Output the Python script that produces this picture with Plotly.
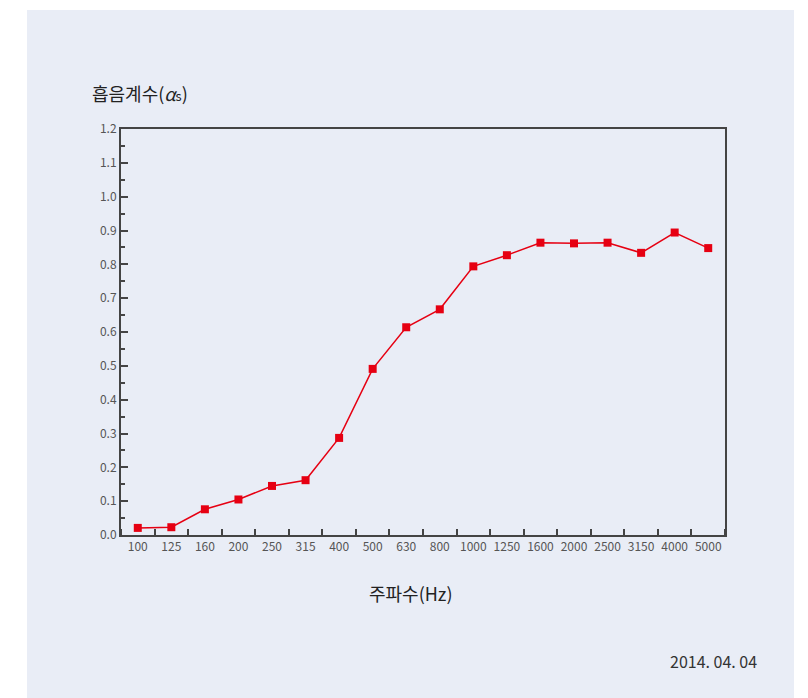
import plotly.graph_objects as go

freqs = ["100", "125", "160", "200", "250", "315", "400", "500", "630", "800",
         "1000", "1250", "1600", "2000", "2500", "3150", "4000", "5000"]
alpha = [0.021, 0.023, 0.076, 0.105, 0.145, 0.162, 0.287, 0.491, 0.614, 0.667,
         0.794, 0.827, 0.864, 0.862, 0.864, 0.834, 0.894, 0.848]
y_ticks = [0.0, 0.1, 0.2, 0.3, 0.4, 0.5, 0.6, 0.7, 0.8, 0.9, 1.0, 1.1, 1.2]
y_tick_text = ["0.0", "0.1", "0.2", "0.3", "0.4", "0.5", "0.6", "0.7", "0.8", "0.9", "1.0", "1.1", "1.2"]

BG = "#e9edf6"
RED = "#e60012"
AXIS = "#444444"
FONT = "Noto Sans CJK KR, Noto Sans, sans-serif"

# page body has an 8px margin, so the figure is drawn 8px in from the corner
OFF = 8
W, H = 808 - OFF, 698 - OFF
L, T = 121 - OFF, 129 - OFF
R, B = W - (725 - OFF), H - (535 - OFF)
pw, ph = W - L - R, H - T - B


def px(x):
    return (x - OFF - L) / pw


def py(y):
    return (T + ph - (y - OFF)) / ph


fig = go.Figure(
    go.Scatter(
        x=list(range(len(freqs))),
        y=alpha,
        mode="lines+markers",
        line=dict(color=RED, width=1.5),
        marker=dict(symbol="square", size=8, color=RED),
        showlegend=False,
        hoverinfo="skip",
    )
)

# light blue card behind everything
fig.add_shape(
    type="rect", xref="paper", yref="paper", layer="below",
    x0=px(27), x1=px(794), y0=py(710), y1=py(10),
    fillcolor=BG, line_width=0,
)

fig.update_xaxes(
    range=[-0.5, len(freqs) - 0.5],
    tickmode="array",
    tickvals=list(range(len(freqs))),
    ticktext=freqs,
    ticks="",
    showgrid=False,
    zeroline=False,
    showline=True, linecolor=AXIS, linewidth=2, mirror=True,
    tickfont=dict(family=FONT, size=12, color="#555555"),
    minor=dict(tickmode="array", tickvals=[i + 0.5 for i in range(-1, len(freqs))],
               ticks="inside", ticklen=6, tickcolor=AXIS, tickwidth=1.5),
    fixedrange=True,
)
fig.update_yaxes(
    range=[0, 1.2],
    tickmode="array",
    tickvals=y_ticks,
    ticktext=y_tick_text,
    ticks="inside", ticklen=7, tickcolor=AXIS, tickwidth=1.5,
    showgrid=False,
    zeroline=False,
    showline=True, linecolor=AXIS, linewidth=2, mirror=True,
    tickfont=dict(family=FONT, size=12, color="#555555"),
    minor=dict(tickmode="array", tickvals=[v + 0.05 for v in y_ticks[:-1]],
               ticks="inside", ticklen=4, tickcolor=AXIS, tickwidth=1.5),
    fixedrange=True,
)

fig.add_annotation(
    text="흡음계수(<i>α</i><span style='font-size:13px'>s</span>)",
    xref="paper", yref="paper",
    x=px(90), y=py(93),
    xanchor="left", yanchor="middle", showarrow=False,
    font=dict(family=FONT, size=18, color="#222222"),
)
fig.add_annotation(
    text="주파수(Hz)",
    xref="paper", yref="paper",
    x=px(411), y=py(593),
    xanchor="center", yanchor="middle", showarrow=False,
    font=dict(family=FONT, size=18, color="#222222"),
)
fig.add_annotation(
    text="2014. 04. 04",
    xref="paper", yref="paper",
    x=px(759), y=py(661),
    xanchor="right", yanchor="middle", showarrow=False,
    font=dict(family=FONT, size=16, color="#333333"),
)

fig.update_layout(
    width=W, height=H,
    margin=dict(l=L, r=R, t=T, b=B),
    paper_bgcolor="white",
    plot_bgcolor=BG,
    font=dict(family=FONT),
)

fig.write_html("out.html", config={"displayModeBar": False})
